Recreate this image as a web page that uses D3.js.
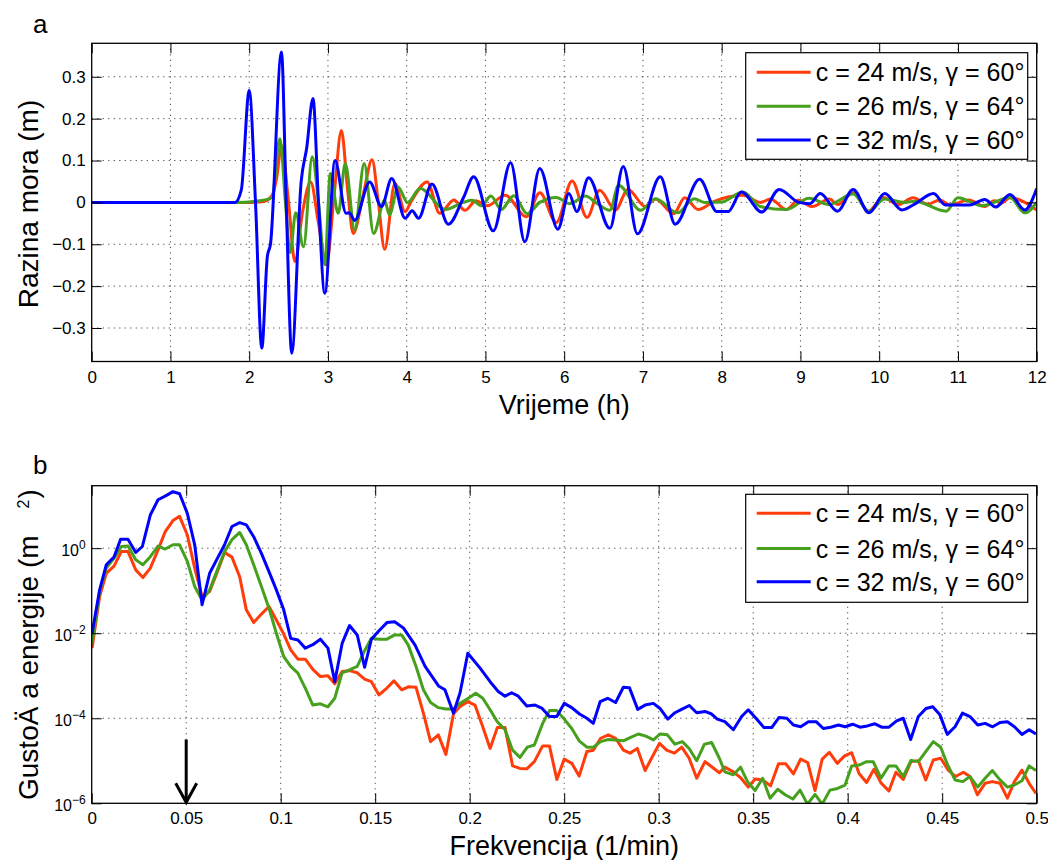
<!DOCTYPE html>
<html><head><meta charset="utf-8">
<script src="https://cdn.jsdelivr.net/npm/d3@7"></script>
<style>
body{margin:0;background:#fff}
svg{display:block}
text{font-family:"Liberation Sans",Arial,Helvetica,sans-serif;fill:#000}
</style>
</head><body>
<svg id="chart" width="1048" height="860"></svg>
<script>
// ---------------- DATA ----------------
const seriesNames = ["c = 24 m/s, γ = 60°", "c = 26 m/s, γ = 64°", "c = 32 m/s, γ = 60°"];
const seriesColors = ["#ff3c0a", "#46a01e", "#0000ff"];

const timeTicks = [0,1,2,3,4,5,6,7,8,9,10,11,12];
const levelTicks = [-0.3,-0.2,-0.1,0,0.1,0.2,0.3];
const freqTicks = [0,0.05,0.1,0.15,0.2,0.25,0.3,0.35,0.4,0.45,0.5];
const freqTickLabels = ["0","0.05","0.1","0.15","0.2","0.25","0.3","0.35","0.4","0.45","0.5"];
const energyTickExps = [-6,-4,-2,0];

// Panel a: sea level (m) vs time (h), [t, level]
const levelRed = [[0,0],[2.0,0],[2.2,0.003],[2.3,0.02],[2.35,0.06],[2.41,0.136],[2.5,0.0],[2.58,-0.141],[2.68,-0.02],[2.78,0.049],[2.88,-0.05],[2.98,-0.149],[3.08,0.02],[3.17,0.172],[3.25,0.03],[3.32,-0.074],[3.45,0.02],[3.56,0.102],[3.64,0.0],[3.72,-0.112],[3.85,0.045],[3.98,-0.022],[4.05,0.0],[4.26,0.049],[4.42,-0.026],[4.6,0.006],[4.74,-0.019],[4.88,0.004],[5.02,-0.008],[5.25,0.017],[5.52,-0.034],[5.69,0.023],[5.9,-0.048],[6.10,0.051],[6.29,-0.036],[6.45,0.029],[6.65,-0.018],[6.81,0.031],[7.03,-0.010],[7.16,0.008],[7.39,-0.027],[7.53,0.011],[7.7,-0.017],[7.9,0.002],[8.27,0.017],[8.49,0.0],[8.62,0.008],[8.82,-0.017],[8.97,0.005],[9.15,-0.01],[9.37,0.008],[9.47,-0.005],[9.67,0.023],[9.86,-0.021],[10.05,0.012],[10.24,-0.005],[10.43,0.011],[10.62,-0.004],[10.77,0.006],[10.9,-0.006],[11.14,0.006],[11.34,-0.01],[11.46,0.004],[11.55,-0.002],[11.66,0.011],[12,-0.018]];
const levelGreen = [[0,0],[1.83,0],[2.2,0.006],[2.29,0.012],[2.39,0.152],[2.46,0.0],[2.52,-0.12],[2.59,-0.025],[2.69,-0.106],[2.80,0.109],[2.88,0],[2.96,-0.149],[3.03,0.069],[3.13,-0.026],[3.22,0.093],[3.34,-0.066],[3.46,0.093],[3.58,-0.074],[3.72,0.005],[3.78,-0.03],[3.89,0.037],[4.01,0.0],[4.17,0.033],[4.49,-0.017],[4.72,0.0],[4.83,0.005],[4.95,-0.008],[5.07,0.015],[5.2,-0.017],[5.36,0.016],[5.53,-0.027],[5.69,0.0],[5.9,0.012],[6.07,-0.003],[6.27,0.015],[6.4,0.0],[6.58,-0.019],[6.69,0.041],[6.97,-0.019],[7.16,0.009],[7.44,-0.025],[7.65,0.009],[7.78,0.0],[8.0,0.001],[8.27,0.025],[8.49,-0.01],[8.82,-0.017],[9.11,0.01],[9.36,-0.005],[9.67,0.02],[9.87,-0.021],[10.07,0.008],[10.33,0.0],[10.45,0.003],[10.85,-0.021],[11.0,0.011],[11.3,-0.008],[11.66,0.012],[11.85,-0.025],[12,0.0]];
const levelBlue = [[0,0],[1.82,0],[1.9,0.03],[2.0,0.267],[2.08,0.0],[2.16,-0.348],[2.23,-0.13],[2.27,-0.1],[2.41,0.359],[2.47,0],[2.54,-0.36],[2.66,0.05],[2.73,0.13],[2.81,0.248],[2.88,0],[2.96,-0.217],[3.09,0.10],[3.23,-0.026],[3.27,-0.025],[3.34,-0.043],[3.53,0.049],[3.68,-0.01],[3.81,0.057],[3.98,-0.038],[4.07,-0.02],[4.15,-0.038],[4.32,0.044],[4.53,-0.052],[4.72,0.011],[4.85,0.061],[5.10,-0.068],[5.32,0.095],[5.50,-0.094],[5.69,0.081],[5.92,-0.064],[6.06,0.021],[6.16,-0.022],[6.31,0.059],[6.58,-0.062],[6.75,0.086],[6.93,-0.075],[7.22,0.061],[7.41,-0.052],[7.72,0.055],[7.94,-0.022],[8.08,-0.022],[8.25,0.025],[8.51,-0.023],[8.73,0.031],[8.98,0.0],[9.12,-0.003],[9.25,0.021],[9.47,-0.021],[9.67,0.031],[9.87,-0.025],[10.07,0.021],[10.29,-0.018],[10.45,-0.004],[10.69,0.021],[10.84,-0.006],[11.15,-0.006],[11.34,0.007],[11.48,-0.011],[11.66,0.019],[11.85,-0.018],[12,0.033]];

// Panel b: energy density, [frequency (1/min), log10 of energy density (m^2)]
const spectrumRed = [[0.0002,-2.35],[0.0042,-1.14],[0.0077,-0.59],[0.0118,-0.42],[0.0157,-0.08],[0.0192,-0.08],[0.0233,-0.51],[0.0271,-0.69],[0.031,-0.47],[0.0351,-0.04],[0.0389,0.39],[0.043,0.65],[0.0465,0.75],[0.0506,0.31],[0.0545,-0.47],[0.0584,-1.14],[0.0624,-1.02],[0.0665,-0.55],[0.0703,-0.10],[0.0742,-0.21],[0.0783,-0.67],[0.0818,-1.45],[0.0857,-1.75],[0.0898,-1.55],[0.0938,-1.37],[0.0977,-1.69],[0.1016,-2.02],[0.1053,-2.39],[0.1091,-2.61],[0.113,-2.61],[0.117,-2.85],[0.121,-3.02],[0.125,-3.0],[0.1286,-3.19],[0.1325,-2.90],[0.1364,-2.88],[0.1405,-2.93],[0.1444,-3.08],[0.148,-3.14],[0.152,-3.45],[0.1562,-3.29],[0.1599,-3.12],[0.164,-3.33],[0.1675,-3.26],[0.1716,-3.27],[0.1755,-3.88],[0.1793,-4.55],[0.1834,-4.39],[0.1874,-4.85],[0.1914,-3.90],[0.1949,-3.72],[0.199,-3.61],[0.2028,-3.69],[0.2069,-4.2],[0.2108,-4.71],[0.2146,-4.22],[0.2187,-4.22],[0.2227,-5.12],[0.2266,-5.18],[0.2302,-5.19],[0.2342,-5.02],[0.2386,-4.65],[0.2422,-4.65],[0.2461,-5.44],[0.25,-4.96],[0.254,-5.06],[0.2579,-5.36],[0.262,-4.78],[0.2654,-4.75],[0.2693,-4.47],[0.2733,-4.39],[0.2772,-4.47],[0.2813,-4.75],[0.2848,-4.82],[0.2887,-4.71],[0.2928,-5.23],[0.2967,-4.90],[0.3004,-4.59],[0.3042,-4.75],[0.3083,-4.82],[0.3122,-4.68],[0.3161,-4.94],[0.3201,-5.41],[0.3245,-5.02],[0.328,-5.14],[0.3321,-5.28],[0.335,-5.15],[0.3395,-5.26],[0.3436,-5.41],[0.3474,-5.62],[0.351,-5.43],[0.355,-5.45],[0.3592,-5.59],[0.3634,-5.07],[0.3672,-5.07],[0.3713,-5.31],[0.3751,-4.96],[0.3788,-5.04],[0.3827,-5.70],[0.3865,-4.96],[0.3903,-4.8],[0.3945,-5.06],[0.3982,-4.89],[0.4021,-4.81],[0.406,-5.3],[0.41,-5.51],[0.4139,-5.2],[0.4176,-5.52],[0.4218,-5.71],[0.4255,-5.27],[0.4294,-5.44],[0.4335,-5.02],[0.4374,-5.0],[0.4413,-5.45],[0.4453,-4.98],[0.4492,-4.94],[0.4532,-5.22],[0.4571,-5.37],[0.4612,-5.27],[0.4647,-5.37],[0.4686,-5.80],[0.4727,-5.53],[0.4765,-5.49],[0.4806,-5.53],[0.4845,-5.88],[0.4882,-5.49],[0.4922,-5.22],[0.496,-5.53],[0.4996,-5.77]];
const spectrumGreen = [[0.0002,-2.24],[0.0042,-1.02],[0.0077,-0.47],[0.0118,-0.24],[0.0157,0.04],[0.0192,0.05],[0.0233,-0.27],[0.0271,-0.39],[0.031,-0.20],[0.0351,0.05],[0.0389,-0.02],[0.043,0.08],[0.0465,0.08],[0.0506,-0.31],[0.0545,-0.90],[0.0584,-1.22],[0.0624,-0.98],[0.0665,-0.51],[0.0703,-0.08],[0.0742,0.20],[0.0783,0.37],[0.0818,0.08],[0.0857,-0.39],[0.0898,-0.90],[0.0938,-1.41],[0.0977,-2.0],[0.1016,-2.55],[0.1053,-2.78],[0.1091,-2.94],[0.113,-3.29],[0.117,-3.69],[0.121,-3.66],[0.125,-3.73],[0.1286,-3.53],[0.1325,-2.93],[0.1364,-2.86],[0.1405,-2.78],[0.1444,-2.41],[0.148,-2.12],[0.152,-2.14],[0.1562,-2.14],[0.1603,-2.04],[0.164,-2.04],[0.1675,-2.28],[0.1716,-2.78],[0.1755,-3.33],[0.1793,-3.63],[0.1834,-3.75],[0.1874,-3.78],[0.1914,-3.78],[0.1949,-3.65],[0.1993,-3.53],[0.2032,-3.41],[0.2069,-3.53],[0.2108,-3.80],[0.2146,-4.08],[0.2187,-4.27],[0.2227,-4.75],[0.2266,-4.92],[0.2305,-4.68],[0.2342,-4.63],[0.2386,-4.12],[0.2422,-3.82],[0.2461,-3.82],[0.25,-4.02],[0.254,-4.24],[0.2579,-4.53],[0.262,-4.68],[0.2654,-4.68],[0.2693,-4.55],[0.2733,-4.5],[0.2772,-4.51],[0.2813,-4.53],[0.2852,-4.45],[0.2892,-4.37],[0.2932,-4.42],[0.2972,-4.51],[0.3007,-4.37],[0.3046,-4.39],[0.3086,-4.61],[0.3125,-4.55],[0.3161,-4.71],[0.3201,-5.0],[0.3242,-4.61],[0.328,-4.57],[0.3321,-4.94],[0.335,-5.26],[0.3395,-5.33],[0.3433,-5.15],[0.347,-5.49],[0.351,-5.70],[0.355,-5.41],[0.3589,-5.88],[0.363,-5.67],[0.3669,-5.80],[0.371,-5.90],[0.3748,-5.69],[0.3787,-6.02],[0.3827,-5.79],[0.3865,-6.02],[0.3906,-5.69],[0.3946,-5.65],[0.3986,-5.57],[0.4021,-5.12],[0.406,-5.10],[0.41,-5.02],[0.4135,-5.02],[0.4176,-5.41],[0.4218,-5.12],[0.4255,-5.12],[0.4294,-5.37],[0.4335,-4.99],[0.4374,-5.02],[0.4414,-4.78],[0.4453,-4.55],[0.4492,-4.68],[0.4529,-5.10],[0.4568,-5.45],[0.4609,-5.49],[0.4647,-5.37],[0.4688,-5.62],[0.4727,-5.41],[0.4765,-5.23],[0.4806,-5.45],[0.4845,-5.62],[0.4882,-5.57],[0.4922,-5.47],[0.496,-5.12],[0.4996,-5.23]];
const spectrumBlue = [[0.0002,-2.0],[0.0042,-0.98],[0.0077,-0.39],[0.0118,-0.21],[0.0153,0.21],[0.0192,0.21],[0.0233,-0.10],[0.0268,0.04],[0.031,0.78],[0.0351,1.14],[0.0391,1.23],[0.043,1.33],[0.0465,1.28],[0.0506,0.82],[0.0545,0.08],[0.0584,-1.33],[0.0624,-0.59],[0.0665,-0.24],[0.0703,0.08],[0.0742,0.51],[0.0783,0.60],[0.0818,0.55],[0.0857,0.27],[0.0898,-0.12],[0.0938,-0.55],[0.0977,-0.98],[0.1016,-1.45],[0.1053,-2.12],[0.1091,-2.16],[0.113,-2.35],[0.117,-2.27],[0.121,-2.14],[0.125,-2.35],[0.1286,-3.14],[0.1325,-2.24],[0.1364,-1.82],[0.1405,-2.04],[0.1444,-2.80],[0.148,-2.14],[0.152,-1.94],[0.1562,-1.75],[0.1603,-1.73],[0.165,-1.88],[0.1711,-2.28],[0.1764,-2.78],[0.1835,-3.24],[0.1869,-3.33],[0.1914,-3.88],[0.1949,-3.40],[0.199,-2.47],[0.2055,-2.82],[0.2108,-3.14],[0.2151,-3.37],[0.2187,-3.48],[0.2222,-3.40],[0.2257,-3.48],[0.2302,-3.71],[0.2346,-3.69],[0.2381,-3.76],[0.2422,-3.96],[0.2461,-3.96],[0.25,-3.65],[0.254,-3.75],[0.2581,-3.9],[0.262,-4.0],[0.2654,-4.12],[0.269,-3.61],[0.273,-3.53],[0.2772,-3.63],[0.2813,-3.27],[0.2845,-3.28],[0.2889,-3.79],[0.2928,-3.69],[0.2972,-3.65],[0.3007,-3.77],[0.3048,-4.02],[0.3086,-3.87],[0.3121,-3.79],[0.3162,-3.70],[0.3201,-3.87],[0.3245,-3.84],[0.328,-3.90],[0.331,-4.02],[0.335,-4.08],[0.3395,-4.27],[0.3439,-3.96],[0.3474,-3.80],[0.3518,-4.02],[0.3557,-4.22],[0.3598,-4.22],[0.3637,-3.98],[0.3678,-4.0],[0.3713,-4.16],[0.3751,-4.2],[0.3792,-4.08],[0.3833,-4.08],[0.3871,-4.24],[0.391,-4.21],[0.3951,-4.16],[0.3986,-4.2],[0.4026,-4.14],[0.4065,-4.21],[0.4104,-4.18],[0.4144,-4.13],[0.418,-4.21],[0.4218,-4.21],[0.4259,-4.06],[0.4294,-4.0],[0.4333,-4.5],[0.4374,-3.96],[0.4414,-3.77],[0.445,-3.73],[0.4488,-3.92],[0.4527,-4.38],[0.4568,-4.2],[0.4607,-3.88],[0.4647,-3.96],[0.4688,-4.16],[0.4727,-4.12],[0.4767,-4.2],[0.4806,-4.1],[0.4845,-4.08],[0.4882,-4.2],[0.4922,-4.38],[0.496,-4.27],[0.4996,-4.37]];

// arrow annotation: frequency and log10 extent
const arrowFreq = 0.05;
const arrowLogRange = [-4.5, -6];

// ---------------- DRAWING ----------------
const svg = d3.select("#chart");
const L = 91.7, R = 1036.7;
const panA = {top: 43.3, bottom: 361.5};
const panB = {top: 485.7, bottom: 803.3};

const xT = d3.scaleLinear().domain([0, 12]).range([L, R]);
const yT = d3.scaleLinear().domain([-0.38, 0.38]).range([panA.bottom, panA.top]);
const xF = d3.scaleLinear().domain([0, 0.5]).range([L, R]);
const yF = d3.scaleLinear().domain([-6, 1.47]).range([panB.bottom, panB.top]);

const TICK = 10, TF = 17;
const gridStyle = g => g.attr("stroke", "#333").attr("stroke-width", 0.9).attr("stroke-dasharray", "1.2,4.3");

function grid(g, xs, ys, xScale, yScale, pan) {
  xs.forEach(v => {
    const x = xScale(v);
    if (Math.abs(x - L) < 1 || Math.abs(x - R) < 1) return;
    g.append("line").attr("x1", x).attr("x2", x).attr("y1", pan.top).attr("y2", pan.bottom).call(gridStyle);
  });
  ys.forEach(v => {
    const y = yScale(v);
    if (Math.abs(y - pan.top) < 1 || Math.abs(y - pan.bottom) < 1) return;
    g.append("line").attr("x1", L).attr("x2", R).attr("y1", y).attr("y2", y).call(gridStyle);
  });
}

function styleAxis(g) {
  g.select(".domain").remove();
  g.selectAll(".tick line").attr("stroke", "#000").attr("stroke-width", 1);
  g.selectAll("text").attr("font-size", TF).attr("font-family", '"Liberation Sans", Arial, sans-serif').attr("fill", "#000");
}

function clip(id, pan) {
  svg.append("clipPath").attr("id", id).append("rect")
    .attr("x", L).attr("y", pan.top).attr("width", R - L).attr("height", pan.bottom - pan.top);
}
clip("clipA", panA); clip("clipB", panB);

// ---- Panel a ----
const gA = svg.append("g");
grid(gA, timeTicks, levelTicks, xT, yT, panA);

const lineA = d3.line().x(d => xT(d[0])).y(d => yT(d[1])).curve(d3.curveMonotoneX);
const levelSeries = [levelRed, levelGreen, levelBlue];
const gLinesA = gA.append("g").attr("clip-path", "url(#clipA)");
levelSeries.forEach((s, i) => {
  gLinesA.append("path").datum(s).attr("d", lineA).attr("fill", "none")
    .attr("stroke", seriesColors[i]).attr("stroke-width", 3).attr("stroke-linejoin", "round");
});

gA.append("g").attr("transform", `translate(0,${panA.bottom})`)
  .call(d3.axisBottom(xT).tickValues(timeTicks).tickSize(-TICK).tickPadding(9).tickFormat(d3.format("d"))).call(styleAxis);
gA.append("g").attr("transform", `translate(0,${panA.top})`)
  .call(d3.axisTop(xT).tickValues(timeTicks).tickSize(-TICK).tickFormat("")).call(styleAxis);
gA.append("g").attr("transform", `translate(${L},0)`)
  .call(d3.axisLeft(yT).tickValues(levelTicks).tickSize(-TICK).tickPadding(6)
    .tickFormat(d => d === 0 ? "0" : (d < 0 ? "\u2212" : "") + Math.abs(d).toFixed(1))).call(styleAxis);
gA.append("g").attr("transform", `translate(${R},0)`)
  .call(d3.axisRight(yT).tickValues(levelTicks).tickSize(-TICK).tickFormat("")).call(styleAxis);

gA.append("rect").attr("x", L).attr("y", panA.top).attr("width", R - L).attr("height", panA.bottom - panA.top)
  .attr("fill", "none").attr("stroke", "#000").attr("stroke-width", 1.3);

// ---- Panel b ----
const gB = svg.append("g");
grid(gB, freqTicks, energyTickExps, xF, yF, panB);

const lineB = d3.line().x(d => xF(d[0])).y(d => yF(d[1]));
const spectrumSeries = [spectrumRed, spectrumGreen, spectrumBlue];
const gLinesB = gB.append("g").attr("clip-path", "url(#clipB)");
spectrumSeries.forEach((s, i) => {
  gLinesB.append("path").datum(s).attr("d", lineB).attr("fill", "none")
    .attr("stroke", seriesColors[i]).attr("stroke-width", 3).attr("stroke-linejoin", "round");
});

gB.append("g").attr("transform", `translate(0,${panB.bottom})`)
  .call(d3.axisBottom(xF).tickValues(freqTicks).tickSize(-TICK).tickPadding(9)
    .tickFormat((d, i) => freqTickLabels[i])).call(styleAxis);
gB.append("g").attr("transform", `translate(0,${panB.top})`)
  .call(d3.axisTop(xF).tickValues(freqTicks).tickSize(-TICK).tickFormat("")).call(styleAxis);
const yAxB = gB.append("g").attr("transform", `translate(${L},0)`)
  .call(d3.axisLeft(yF).tickValues(energyTickExps).tickSize(-TICK).tickPadding(6).tickFormat("")).call(styleAxis);
yAxB.selectAll(".tick").each(function(d) {
  const t = d3.select(this).append("text").attr("x", -6).attr("dy", "0.45em")
    .attr("text-anchor", "end").attr("font-size", 16).attr("fill", "#000");
  t.append("tspan").text("10");
  t.append("tspan").attr("dy", "-0.55em").attr("font-size", 12).text(d === 0 ? "0" : "\u2212" + Math.abs(d));
});
gB.append("g").attr("transform", `translate(${R},0)`)
  .call(d3.axisRight(yF).tickValues(energyTickExps).tickSize(-TICK).tickFormat("")).call(styleAxis);

gB.append("rect").attr("x", L).attr("y", panB.top).attr("width", R - L).attr("height", panB.bottom - panB.top)
  .attr("fill", "none").attr("stroke", "#000").attr("stroke-width", 1.3);

// arrow
const ax = xF(arrowFreq), ay0 = yF(arrowLogRange[0]), ay1 = yF(arrowLogRange[1]);
gB.append("line").attr("x1", ax).attr("x2", ax).attr("y1", ay0).attr("y2", ay1 - 1)
  .attr("stroke", "#000").attr("stroke-width", 3);
gB.append("path").attr("d", `M${ax - 10.5},${ay1 - 20}L${ax},${ay1 - 1}L${ax + 10.5},${ay1 - 20}`)
  .attr("fill", "none").attr("stroke", "#000").attr("stroke-width", 3);

// ---- Legends ----
function legend(x, y, w, h, rows) {
  const g = svg.append("g");
  g.append("rect").attr("x", x).attr("y", y).attr("width", w).attr("height", h)
    .attr("fill", "#fff").attr("stroke", "#000").attr("stroke-width", 1.2);
  seriesNames.forEach((name, i) => {
    const cy = rows[i];
    g.append("line").attr("x1", x + 11).attr("x2", x + 65).attr("y1", cy).attr("y2", cy)
      .attr("stroke", seriesColors[i]).attr("stroke-width", 3);
    g.append("text").attr("x", x + 70).attr("y", cy).attr("dy", "0.36em")
      .attr("font-size", 25).text(name);
  });
}
legend(745.7, 52.7, 282, 106.6, [72.3, 106.2, 140]);
legend(745.7, 494.3, 282, 108, [513.3, 548.5, 581.7]);

// ---- Axis titles & panel letters ----
svg.append("text").attr("x", 33).attr("y", 33).attr("font-size", 26).text("a");
svg.append("text").attr("x", 33).attr("y", 474).attr("font-size", 26).text("b");

svg.append("text").attr("x", (L + R) / 2).attr("y", 414).attr("text-anchor", "middle")
  .attr("font-size", 27).text("Vrijeme (h)");
svg.append("text").attr("x", (L + R) / 2).attr("y", 855).attr("text-anchor", "middle")
  .attr("font-size", 27).text("Frekvencija (1/min)");

svg.append("text").attr("transform", "translate(38,204) rotate(-90)").attr("text-anchor", "middle")
  .attr("font-size", 28).text("Razina mora (m)");

const yl = svg.append("text").attr("transform", "translate(38,800) rotate(-90)").attr("text-anchor", "start")
  .attr("font-size", 28);
yl.append("tspan").text("Gusto\u00C4 a energije (m");
yl.append("tspan").attr("dx", 27).attr("dy", -9).attr("font-size", 16).text("2");
yl.append("tspan").attr("dx", 1).attr("dy", 9).text(")");
</script>
</body></html>
